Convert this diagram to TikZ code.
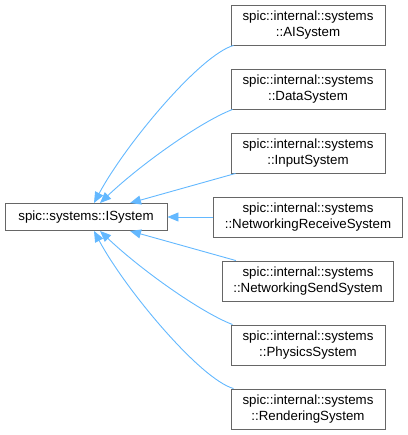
\documentclass[tikz,border=0pt]{standalone}
\usepackage{fontspec}
\setmainfont{Liberation Sans}
\usetikzlibrary{arrows.meta}
\definecolor{boxgrey}{RGB}{102,102,102}
\definecolor{edgeblue}{RGB}{99,184,255}

\begin{document}
\begin{tikzpicture}[x=1pt,y=-1pt,
  classbox/.style={draw=boxgrey,line width=0.9pt,fill=white,align=center,
    minimum width=154pt,minimum height=40pt,inner xsep=11pt,
    font=\fontsize{13.3}{15.5}\selectfont},
  inherit/.style={draw=edgeblue,line width=0.9pt,
    -{Triangle[length=11pt,width=9pt]}}]
\useasboundingbox (0,0) rectangle (407,435);
% base class
\node[classbox,minimum width=162pt,minimum height=27pt] (isys) at (86,217) {spic::systems::ISystem};
% derived classes
\node[classbox] (ai)   at (308,25)  {spic::internal::systems\\::AISystem};
\node[classbox] (data) at (308,89)  {spic::internal::systems\\::DataSystem};
\node[classbox] (inp)  at (308,153) {spic::internal::systems\\::InputSystem};
\node[classbox] (nrecv) at (308,217) {spic::internal::systems\\::NetworkingReceiveSystem};
\node[classbox] (nsend) at (308,281) {spic::internal::systems\\::NetworkingSendSystem};
\node[classbox] (phys) at (308,345) {spic::internal::systems\\::PhysicsSystem};
\node[classbox] (rend) at (308,409) {spic::internal::systems\\::RenderingSystem};
% inheritance edges
\draw[inherit] ([xshift=3pt]ai.south west) .. controls (200,55) and (125,145) .. ([xshift=8pt]isys.north);
\draw[inherit] ([xshift=2pt]data.south west) .. controls (200,122) and (140,165) .. ([xshift=14pt]isys.north);
\draw[inherit] ([xshift=5pt]inp.south west) -- ([xshift=44pt]isys.north);
\draw[inherit] (nrecv.west) -- (isys.east);
\draw[inherit] ([xshift=14pt]nsend.north west) -- ([xshift=44pt]isys.south);
\draw[inherit] ([xshift=2pt]phys.north west) .. controls (200,312) and (140,269) .. ([xshift=14pt]isys.south);
\draw[inherit] ([xshift=3pt]rend.north west) .. controls (200,379) and (125,289) .. ([xshift=8pt]isys.south);
\end{tikzpicture}
\end{document}
